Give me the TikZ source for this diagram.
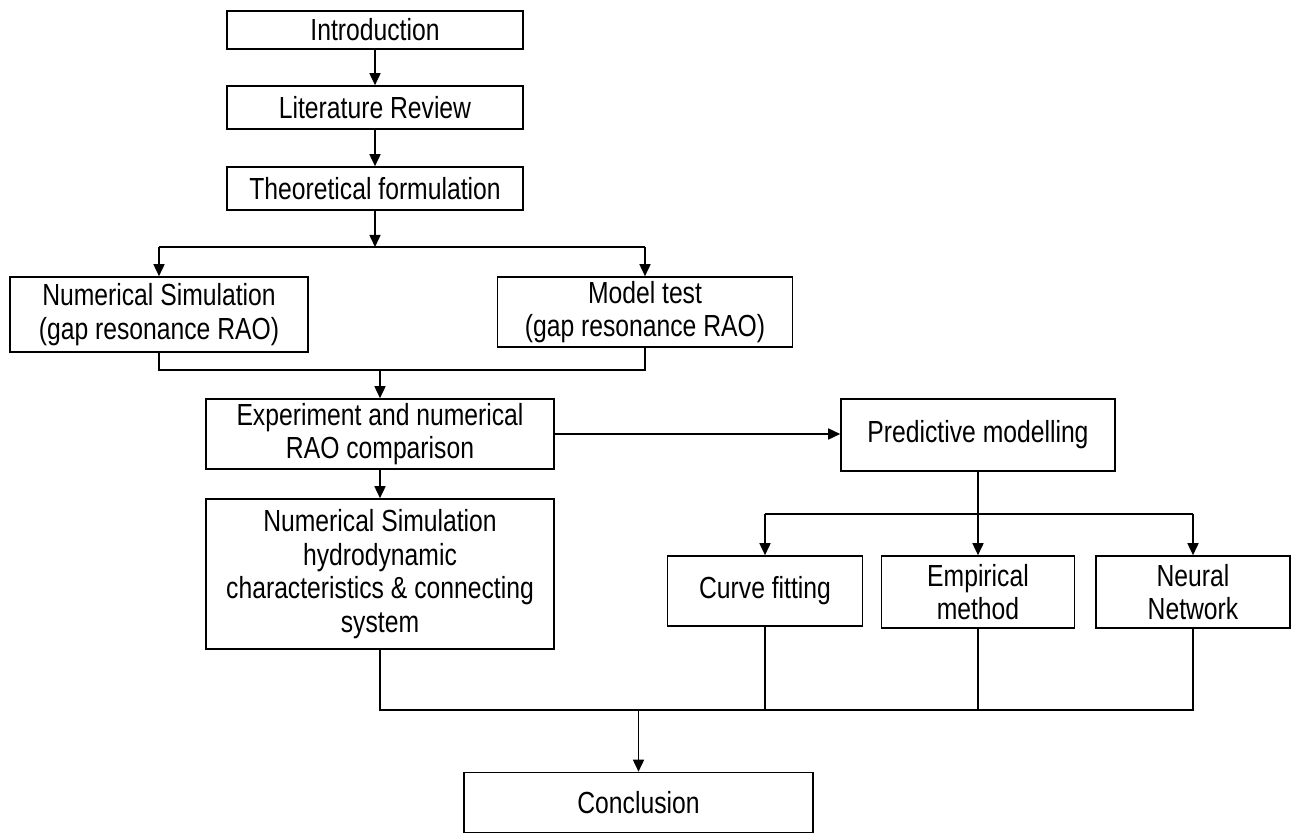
\documentclass[tikz,border=0pt]{standalone}
\usepackage{fontspec}
\setmainfont[FakeStretch=0.81]{Liberation Sans}
\usetikzlibrary{arrows.meta}
\begin{document}
\begin{tikzpicture}[x=1pt,y=-1pt,
  every node/.style={font=\fontsize{30.5}{33.5}\selectfont},
  box/.style={draw, line width=1.6pt, align=center, inner sep=0pt},
  conn/.style={line width=1.6pt},
  arr/.style={line width=1.6pt, -{Triangle[length=12pt,width=11pt]}}]
\useasboundingbox[fill=white] (0,0) rectangle (1298,834);

\node[box, minimum width=296pt, minimum height=38pt] (intro) at (375,30) {Introduction};
\node[box, minimum width=296pt, minimum height=43pt] (lit) at (375,107.5) {Literature Review};
\node[box, minimum width=296pt, minimum height=43pt] (theo) at (375,188.5) {Theoretical formulation};
\node[box, minimum width=298pt, minimum height=75pt] (numsim) at (159,314.5) {Numerical Simulation\\(gap resonance RAO)};
\node[box, minimum width=295pt, minimum height=70pt] (model) at (645,312) {Model test\\(gap resonance RAO)};
\node[box, minimum width=348pt, minimum height=70pt] (exp) at (380,434) {Experiment and numerical\\RAO comparison};
\node[box, minimum width=348pt, minimum height=150pt] (hydro) at (380,574) {Numerical Simulation\\hydrodynamic\\characteristics \& connecting\\system};
\node[box, minimum width=274pt, minimum height=72pt] (pred) at (978,435) {Predictive modelling};
\node[box, minimum width=195pt, minimum height=70pt] (curve) at (765,591) {Curve fitting};
\node[box, minimum width=193pt, minimum height=72pt] (emp) at (978,592) {Empirical\\method};
\node[box, minimum width=194pt, minimum height=72pt] (neural) at (1193,592) {Neural\\Network};
\node[box, minimum width=349pt, minimum height=60pt] (concl) at (638.5,802.5) {Conclusion};

\coordinate (br) at (375,247);
\coordinate (mg) at (380,370);
\coordinate (pb) at (978,514);
\coordinate (bt) at (638.5,710);

\draw[arr] (intro) -- (lit);
\draw[arr] (lit) -- (theo);
\draw[arr] (theo.south) -- (br);
\draw[conn] (br -| numsim.north) -- (br -| model.north);
\draw[arr] (br -| numsim.north) -- (numsim.north);
\draw[arr] (br -| model.north) -- (model.north);

\draw[conn] (numsim.south) -- (mg -| numsim.south) -- (mg -| model.south) -- (model.south);
\draw[arr] (mg) -- (exp.north);

\draw[arr] (exp.east) -- (pred.west |- exp.east);
\draw[arr] (exp.south) -- (hydro.north);

\draw[conn] (pred.south) -- (pb);
\draw[conn] (pb -| curve.north) -- (pb -| neural.north);
\draw[arr] (pb -| curve.north) -- (curve.north);
\draw[arr] (pb) -- (emp.north);
\draw[arr] (pb -| neural.north) -- (neural.north);

\draw[conn] (hydro.south) -- (bt -| hydro.south) -- (bt -| neural.south) -- (neural.south);
\draw[conn] (curve.south) -- (bt -| curve.south);
\draw[conn] (emp.south) -- (bt -| emp.south);
\draw[arr] (bt) -- (concl.north);
\end{tikzpicture}
\end{document}
